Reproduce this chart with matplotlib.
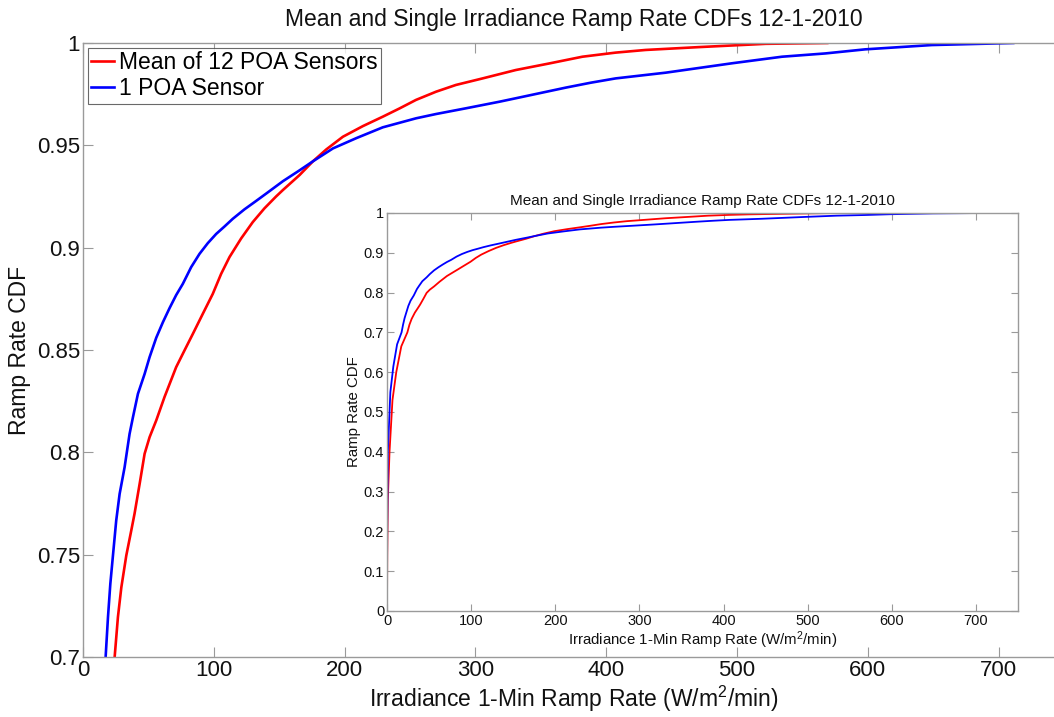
import matplotlib
matplotlib.use("Agg")
import matplotlib.pyplot as plt

plt.rcParams['font.family'] = ['Liberation Sans', 'DejaVu Sans']
plt.rcParams['mathtext.default'] = 'regular'

title = "Mean and Single Irradiance Ramp Rate CDFs 12-1-2010"
xlabel = "Irradiance 1-Min Ramp Rate (W/m$^2$/min)"
ylabel = "Ramp Rate CDF"
labels = ["Mean of 12 POA Sensors", "1 POA Sensor"]

mean_x = [0, 0.3, 1, 3, 6.5, 11, 17, 24.2, 26.7, 29.3, 33.1, 36.9, 39.4, 43.3, 47.1,
          50.9, 56.0, 62.3, 71.2, 77.6, 84.0, 91.6, 99.2, 105.6, 112.0, 120.9,
          129.8, 138.7, 147.6, 152.9, 165.6, 175.8, 186.0, 198.7, 214.0, 229.2,
          241.9, 254.6, 269.9, 285.1, 305.5, 330.9, 356.4, 381.8, 407.2, 430.1,
          471, 522, 569]
mean_y = [0, 0.14, 0.28, 0.40, 0.53, 0.60, 0.665, 0.700, 0.7195, 0.734, 0.7496,
          0.7618, 0.770, 0.7846, 0.7993, 0.8074, 0.8156, 0.827, 0.8416, 0.8498,
          0.8579, 0.8677, 0.8774, 0.8872, 0.8954, 0.9045, 0.9125, 0.9192, 0.925,
          0.9282, 0.9355, 0.9422, 0.948, 0.9542, 0.9594, 0.964, 0.968, 0.9722,
          0.9762, 0.9795, 0.9827, 0.9868, 0.990, 0.9933, 0.9953, 0.9966, 0.998,
          0.9996, 1.0]

single_x = [0, 0.2, 1, 4, 7.5, 12, 17.3, 19.1, 20.9, 22.9, 25.4, 28.0, 31.8, 35.6,
            38.2, 42.0, 47.1, 50.9, 56.0, 61.1, 66.2, 71.2, 76.3, 82.7, 89.1, 95.4,
            101.8, 108.1, 114.5, 123.4, 132.3, 140.2, 152.9, 165.6, 175.8, 191.1,
            208.9, 229.2, 254.6, 269.9, 292.8, 318.3, 330.9, 350.0, 369.1, 388.2,
            407.2, 445.5, 496.3, 534.4, 567.5, 598, 648.9, 711.2]
single_y = [0, 0.2, 0.4, 0.55, 0.614, 0.67, 0.700, 0.7195, 0.7358, 0.7496, 0.7667,
            0.7797, 0.7927, 0.809, 0.8172, 0.8286, 0.8383, 0.8465, 0.856, 0.8636,
            0.8705, 0.8768, 0.8823, 0.8905, 0.897, 0.9022, 0.9067, 0.9103, 0.9141,
            0.9187, 0.9228, 0.9265, 0.9325, 0.9378, 0.9422, 0.9485, 0.9535, 0.9588,
            0.9632, 0.9653, 0.9681, 0.9713, 0.973, 0.9756, 0.9782, 0.9806, 0.9827,
            0.9855, 0.9901, 0.9933, 0.9949, 0.9969, 0.999, 1.0]

main_xticks = [0, 100, 200, 300, 400, 500, 600, 700]
main_yticks = [0.7, 0.75, 0.8, 0.85, 0.9, 0.95, 1.0]
main_yticklabels = ["0.7", "0.75", "0.8", "0.85", "0.9", "0.95", "1"]
inset_yticks = [0, 0.1, 0.2, 0.3, 0.4, 0.5, 0.6, 0.7, 0.8, 0.9, 1.0]
inset_yticklabels = ["0", "0.1", "0.2", "0.3", "0.4", "0.5", "0.6", "0.7", "0.8", "0.9", "1"]

W, H = 1054, 717
fig = plt.figure(figsize=(W / 100, H / 100), dpi=100)

spine_col = "#9a9a9a"

def style(ax, fs, ticklen):
    for s in ax.spines.values():
        s.set_color(spine_col)
        s.set_linewidth(1.0)
    ax.tick_params(direction='in', top=True, right=True, length=ticklen,
                   color=spine_col, labelsize=fs, labelcolor='#111111', pad=2)

# main axes
ax = fig.add_axes([83 / W, 1 - 657 / H, (1064 - 83) / W, (657 - 43) / H])
ax.plot(mean_x, mean_y, color='#ff0000', lw=1.9, label=labels[0])
ax.plot(single_x, single_y, color='#0000ff', lw=1.9, label=labels[1])
ax.set_xlim(0, 750)
ax.set_ylim(0.7, 1.0)
ax.set_xticks(main_xticks)
ax.set_yticks(main_yticks)
ax.set_yticklabels(main_yticklabels)
style(ax, 16, 7)
ax.set_title(title, fontsize=16.5, pad=12, color='#111111')
ax.set_xlabel(xlabel, fontsize=16.5, labelpad=2, color='#111111')
ax.set_ylabel(ylabel, fontsize=16.5, labelpad=4, color='#111111')
leg = ax.legend(loc='upper left', fontsize=16.5, frameon=True, fancybox=False,
                handlelength=1.0, handletextpad=0.2, borderpad=0.15,
                labelspacing=0.15, borderaxespad=0.2)
leg.get_frame().set_edgecolor('#444444')
leg.get_frame().set_linewidth(0.8)

# inset axes
ins = fig.add_axes([387 / W, 1 - 611 / H, (1018 - 387) / W, (611 - 213) / H])
ins.plot(mean_x, mean_y, color='#ff0000', lw=1.3)
ins.plot(single_x, single_y, color='#0000ff', lw=1.3)
ins.set_xlim(0, 750)
ins.set_ylim(0, 1.0)
ins.set_xticks(main_xticks)
ins.set_yticks(inset_yticks)
ins.set_yticklabels(inset_yticklabels)
style(ins, 10.5, 5)
ins.set_title(title, fontsize=11, pad=6, color='#111111')
ins.set_xlabel(xlabel, fontsize=10.8, labelpad=1, color='#111111')
ins.set_ylabel(ylabel, fontsize=10.8, labelpad=2, color='#111111')

fig.savefig("out.png", dpi=100)
